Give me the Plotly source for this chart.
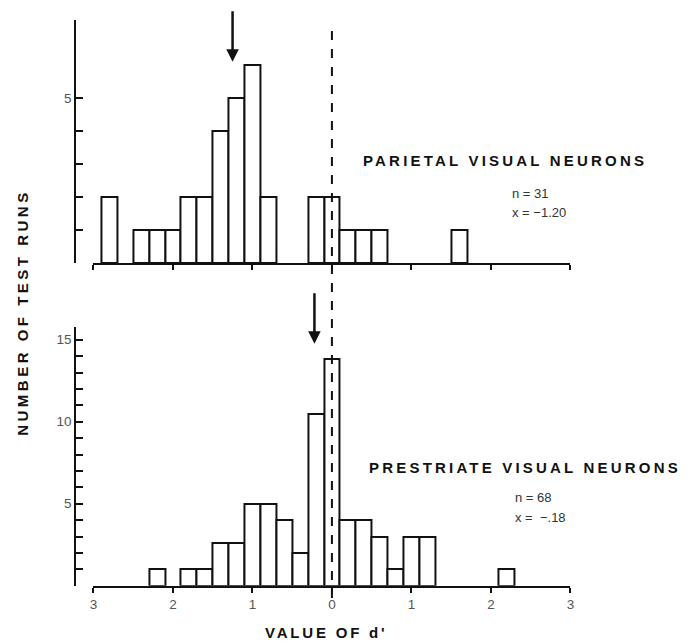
import plotly.graph_objects as go

# ---------------- data ----------------
top_centers = [-2.8, -2.4, -2.2, -2.0, -1.8, -1.6, -1.4, -1.2, -1.0, -0.8,
               -0.2, 0.0, 0.2, 0.4, 0.6, 1.6]
top_counts = [2, 1, 1, 1, 2, 2, 4, 5, 6, 2, 2, 2, 1, 1, 1, 1]

bot_centers = [-2.2, -1.8, -1.6, -1.4, -1.2, -1.0, -0.8, -0.6, -0.4, -0.2,
               0.0, 0.2, 0.4, 0.6, 0.8, 1.0, 1.2, 2.2]
bot_counts = [1, 1, 1, 2.6, 2.6, 5, 5, 4, 2, 10.5, 13.8, 4, 4, 3, 1, 3, 3, 1]

bin_width = 0.2
x_tickvals = [-3, -2, -1, 0, 1, 2, 3]
x_ticktext = ["3", "2", "1", "0", "1", "2", "3"]
top_yticks = [1, 2, 3, 4, 5]
top_ytext = ["", "", "", "", "5"]
bot_yticks = list(range(1, 16))
bot_ytext = ["" if v % 5 else str(v) for v in bot_yticks]

top_arrow_x, top_arrow_y = -1.25, 6.1
bot_arrow_x, bot_arrow_y = -0.22, 14.75

top_title = "PARIETAL VISUAL NEURONS"
top_stats = ["n = 31", "x = −1.20"]
bot_title = "PRESTRIATE VISUAL NEURONS"
bot_stats = ["n = 68", "x =  −.18"]
y_title = "NUMBER OF TEST RUNS"
x_title = "VALUE OF d'"

# ---------------- layout helpers ----------------
W, H = 694, 642
def fx(px):
    return px / W
def fy(py):
    return 1 - py / H

fig = go.Figure()
bar_style = dict(marker=dict(color="white", line=dict(color="#111", width=2)),
                 width=bin_width, showlegend=False, hoverinfo="skip")
fig.add_trace(go.Bar(x=top_centers, y=top_counts, xaxis="x", yaxis="y", **bar_style))
fig.add_trace(go.Bar(x=bot_centers, y=bot_counts, xaxis="x2", yaxis="y2", **bar_style))

tick_font = dict(family="Liberation Sans", size=13.5, color="#555")
xdom = [fx(90.5), fx(573)]

common_x = dict(range=[-3, 3], domain=xdom, showline=True, linecolor="#111",
                linewidth=2, ticks="outside", ticklen=5, tickwidth=1.5,
                tickcolor="#111", showgrid=False, zeroline=False,
                tickvals=x_tickvals, fixedrange=True)

fig.update_layout(
    width=W, height=H, autosize=False,
    margin=dict(l=0, r=0, t=0, b=0),
    paper_bgcolor="white", plot_bgcolor="white",
    bargap=0,
    xaxis=dict(anchor="y", showticklabels=False, **common_x),
    xaxis2=dict(anchor="y2", ticktext=x_ticktext, tickfont=tick_font, **common_x),
    yaxis=dict(domain=[fy(263), fy(20)], range=[0, (263 - 20) / 33.0],
               anchor="free", position=fx(72), showline=True, linecolor="#111",
               linewidth=2, ticks="inside", ticklen=7, tickwidth=1.5,
               tickcolor="#111", tickvals=top_yticks, ticktext=top_ytext,
               tickfont=tick_font, showgrid=False, zeroline=False),
    yaxis2=dict(domain=[fy(585.7), fy(327)], range=[0, (585.7 - 327) / 16.4],
                anchor="free", position=fx(72), showline=True, linecolor="#111",
                linewidth=2, ticks="inside", ticklen=7, tickwidth=1.5,
                tickcolor="#111", tickvals=bot_yticks, ticktext=bot_ytext,
                tickfont=tick_font, showgrid=False, zeroline=False),
)

# dashed zero line across both panels
fig.add_shape(type="line", xref="x", yref="paper", x0=0, x1=0,
              y0=fy(598), y1=fy(22),
              line=dict(color="#111", width=2, dash="dash"))

# mean arrows
for ax_name, xv, yv in [("", top_arrow_x, top_arrow_y), ("2", bot_arrow_x, bot_arrow_y)]:
    fig.add_annotation(x=xv, y=yv, xref="x" + ax_name, yref="y" + ax_name,
                       ax=0, ay=-52, showarrow=True, arrowhead=2,
                       arrowsize=1, arrowwidth=2.5, arrowcolor="#111", text="")

bold = dict(family="Liberation Sans", size=15, color="#111")
def spaced(t, sp):
    return '<span style="letter-spacing:%spx">%s</span>' % (sp, t)

fig.add_annotation(text=spaced("<b>%s</b>" % top_title, 3.2), xref="paper", yref="paper",
                   x=fx(361), y=fy(161), xanchor="left", yanchor="middle",
                   showarrow=False, font=bold)
fig.add_annotation(text=spaced("<b>%s</b>" % bot_title, 3.2), xref="paper", yref="paper",
                   x=fx(367), y=fy(467), xanchor="left", yanchor="middle",
                   showarrow=False, font=bold)

small = dict(family="Liberation Sans", size=13, color="#333")
for i, t in enumerate(top_stats):
    fig.add_annotation(text=t, xref="paper", yref="paper", x=fx(512), y=fy(193 + 19 * i),
                       xanchor="left", yanchor="middle", showarrow=False, font=small)
for i, t in enumerate(bot_stats):
    fig.add_annotation(text=t, xref="paper", yref="paper", x=fx(515), y=fy(497 + 20 * i),
                       xanchor="left", yanchor="middle", showarrow=False, font=small)

fig.add_annotation(text=spaced("<b>%s</b>" % y_title, 3.5), xref="paper", yref="paper",
                   x=fx(18), y=fy(312), xanchor="center", yanchor="middle",
                   textangle=-90, showarrow=False, font=bold)
fig.add_annotation(text=spaced("<b>%s</b>" % x_title, 2.8), xref="paper", yref="paper",
                   x=fx(326), y=fy(632), xanchor="center", yanchor="middle",
                   showarrow=False, font=bold)

fig.write_html("out.html")
